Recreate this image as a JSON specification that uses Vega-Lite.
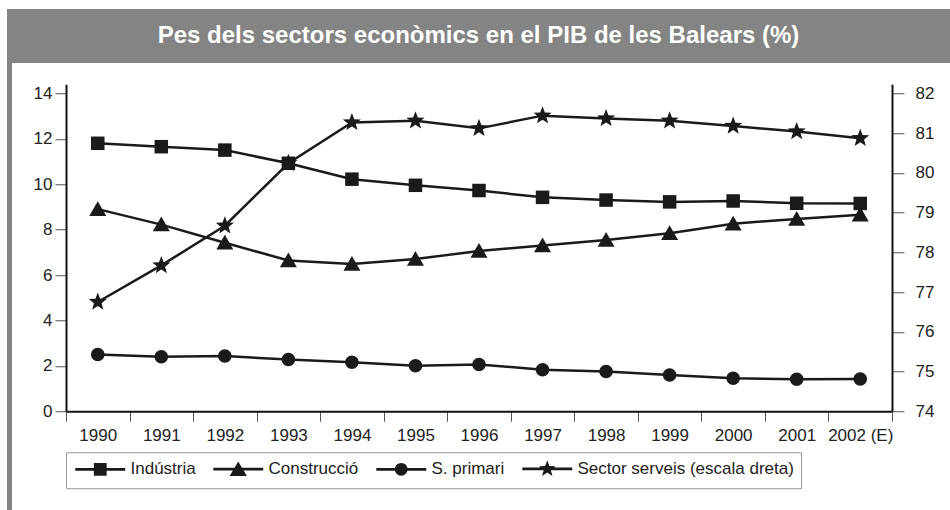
{
  "$schema": "https://vega.github.io/schema/vega-lite/v6.json",
  "background": "white",
  "padding": {"left": 7, "top": 9, "right": 0, "bottom": 0},
  "spacing": 0,
  "config": {
    "view": {"stroke": null},
    "font": "Liberation Sans",
    "axis": {"labelFont": "Liberation Sans", "labelFontSize": 17, "labelColor": "#222", "title": null, "grid": false, "domainColor": "#111", "domainWidth": 2, "tickColor": "#555", "tickWidth": 1}
  },
  "resolve": {"scale": {"shape": "independent", "opacity": "independent"}, "legend": {"shape": "independent", "opacity": "independent"}},
  "datasets": {
    "pib": [
      {"any": "1990", "sector": "Indústria", "valor": 11.8},
      {"any": "1991", "sector": "Indústria", "valor": 11.65},
      {"any": "1992", "sector": "Indústria", "valor": 11.5},
      {"any": "1993", "sector": "Indústria", "valor": 10.92},
      {"any": "1994", "sector": "Indústria", "valor": 10.22},
      {"any": "1995", "sector": "Indústria", "valor": 9.95},
      {"any": "1996", "sector": "Indústria", "valor": 9.72},
      {"any": "1997", "sector": "Indústria", "valor": 9.42},
      {"any": "1998", "sector": "Indústria", "valor": 9.3},
      {"any": "1999", "sector": "Indústria", "valor": 9.22},
      {"any": "2000", "sector": "Indústria", "valor": 9.26},
      {"any": "2001", "sector": "Indústria", "valor": 9.16},
      {"any": "2002 (E)", "sector": "Indústria", "valor": 9.15},
      {"any": "1990", "sector": "Construcció", "valor": 8.9},
      {"any": "1991", "sector": "Construcció", "valor": 8.22},
      {"any": "1992", "sector": "Construcció", "valor": 7.42},
      {"any": "1993", "sector": "Construcció", "valor": 6.64},
      {"any": "1994", "sector": "Construcció", "valor": 6.48},
      {"any": "1995", "sector": "Construcció", "valor": 6.7},
      {"any": "1996", "sector": "Construcció", "valor": 7.06},
      {"any": "1997", "sector": "Construcció", "valor": 7.3},
      {"any": "1998", "sector": "Construcció", "valor": 7.54},
      {"any": "1999", "sector": "Construcció", "valor": 7.84},
      {"any": "2000", "sector": "Construcció", "valor": 8.26},
      {"any": "2001", "sector": "Construcció", "valor": 8.47},
      {"any": "2002 (E)", "sector": "Construcció", "valor": 8.65},
      {"any": "1990", "sector": "S. primari", "valor": 2.5},
      {"any": "1991", "sector": "S. primari", "valor": 2.4},
      {"any": "1992", "sector": "S. primari", "valor": 2.43},
      {"any": "1993", "sector": "S. primari", "valor": 2.28},
      {"any": "1994", "sector": "S. primari", "valor": 2.16},
      {"any": "1995", "sector": "S. primari", "valor": 2.0},
      {"any": "1996", "sector": "S. primari", "valor": 2.06},
      {"any": "1997", "sector": "S. primari", "valor": 1.83},
      {"any": "1998", "sector": "S. primari", "valor": 1.75},
      {"any": "1999", "sector": "S. primari", "valor": 1.6},
      {"any": "2000", "sector": "S. primari", "valor": 1.45},
      {"any": "2001", "sector": "S. primari", "valor": 1.41},
      {"any": "2002 (E)", "sector": "S. primari", "valor": 1.42},
      {"any": "1990", "sector": "Sector serveis (escala dreta)", "valor": 76.75},
      {"any": "1991", "sector": "Sector serveis (escala dreta)", "valor": 77.67},
      {"any": "1992", "sector": "Sector serveis (escala dreta)", "valor": 78.67},
      {"any": "1993", "sector": "Sector serveis (escala dreta)", "valor": 80.24},
      {"any": "1994", "sector": "Sector serveis (escala dreta)", "valor": 81.27},
      {"any": "1995", "sector": "Sector serveis (escala dreta)", "valor": 81.31},
      {"any": "1996", "sector": "Sector serveis (escala dreta)", "valor": 81.12},
      {"any": "1997", "sector": "Sector serveis (escala dreta)", "valor": 81.44},
      {"any": "1998", "sector": "Sector serveis (escala dreta)", "valor": 81.37},
      {"any": "1999", "sector": "Sector serveis (escala dreta)", "valor": 81.31},
      {"any": "2000", "sector": "Sector serveis (escala dreta)", "valor": 81.18},
      {"any": "2001", "sector": "Sector serveis (escala dreta)", "valor": 81.04},
      {"any": "2002 (E)", "sector": "Sector serveis (escala dreta)", "valor": 80.87}
    ]
  },
  "vconcat": [
    {
      "width": 943,
      "height": 54,
      "view": {"fill": "#848484", "stroke": null},
      "data": {"values": [{"t": "Pes dels sectors econòmics en el PIB de les Balears (%)"}]},
      "mark": {"type": "text", "color": "white", "font": "Liberation Sans", "fontSize": 24, "fontWeight": "bold", "align": "center", "baseline": "middle"},
      "encoding": {"text": {"field": "t"}}
    },
    {
      "resolve": {"scale": {"shape": "independent", "opacity": "independent"}, "legend": {"shape": "independent", "opacity": "independent"}},
      "hconcat": [
        {
          "width": 5,
          "height": 447,
          "view": {"fill": "#848484", "stroke": null},
          "data": {"values": [{"k": 1}]},
          "mark": {"type": "text"},
          "encoding": {"text": {"value": ""}}
        },
        {
          "width": 826,
          "height": 327,
          "data": {"name": "pib"},
          "encoding": {
            "x": {
              "field": "any",
              "type": "ordinal",
              "scale": {"type": "band", "paddingInner": 0, "paddingOuter": 0},
              "axis": {"orient": "bottom", "tickBand": "extent", "tickSize": 10, "labelPadding": 6, "labelAngle": 0}
            }
          },
          "layer": [
            {
              "transform": [{"filter": "datum.sector !== 'Sector serveis (escala dreta)'"}],
              "encoding": {
                "y": {
                  "field": "valor",
                  "type": "quantitative",
                  "scale": {"domain": [0, 14.4], "nice": false, "zero": false},
                  "axis": {"orient": "left", "values": [0, 2, 4, 6, 8, 10, 12, 14], "tickSize": 11, "labelPadding": 3}
                }
              },
              "layer": [
                {
                  "mark": {"type": "line", "color": "#1a1a1a", "strokeWidth": 2.5},
                  "encoding": {"detail": {"field": "sector"}}
                },
                {
                  "mark": {"type": "point", "filled": true, "color": "#1a1a1a", "size": 100, "shape": {"expr": "['M-0.9,-0.17H5.34V0.17H-0.9ZM1.42,-0.8H3.02V0.8H1.42Z', 'M-0.9,-0.17H5.34V0.17H-0.9ZM2.22,-0.95L3.3,0.85L1.14,0.85Z', 'M-0.9,-0.17H5.34V0.17H-0.9ZM1.42,0A0.8,0.8 0 1,1 3.02,0A0.8,0.8 0 1,1 1.42,0Z', 'M-0.9,-0.17H5.34V0.17H-0.9ZM2.22,-1.1L2.49,-0.372L3.266,-0.34L2.657,0.142L2.867,0.89L2.22,0.46L1.573,0.89L1.783,0.142L1.174,-0.34L1.95,-0.372Z'][indexof(['Indústria', 'Construcció', 'S. primari', 'Sector serveis (escala dreta)'], datum.value)]"}},
                  "encoding": {
                    "shape": {
                      "field": "sector",
                      "type": "nominal",
                      "scale": {
                        "domain": ["Sector serveis (escala dreta)", "Indústria", "Construcció", "S. primari"],
                        "range": [
                          "M0,-1.9L0.47,-0.65L1.81,-0.59L0.76,0.25L1.12,1.54L0,0.8L-1.12,1.54L-0.76,0.25L-1.81,-0.59L-0.47,-0.65Z",
                          "M-1.35,-1.35H1.35V1.35H-1.35Z",
                          "M0,-1.6L1.7,1.35L-1.7,1.35Z",
                          "M-1.35,0A1.35,1.35 0 1,0 1.35,0A1.35,1.35 0 1,0 -1.35,0Z"
                        ]
                      },
                      "legend": null
                    },
                    "opacity": {
                      "field": "sector",
                      "type": "nominal",
                      "scale": {
                        "type": "ordinal",
                        "domain": ["Indústria", "Construcció", "S. primari", "Sector serveis (escala dreta)"],
                        "range": [1, 1, 1, 1]
                      },
                      "legend": {
                        "orient": "none",
                        "legendX": 0,
                        "legendY": 368,
                        "direction": "horizontal",
                        "title": null,
                        "symbolSize": 256,
                        "symbolStrokeWidth": 2.5,
                        "symbolFillColor": "#1a1a1a",
                        "symbolStrokeColor": "#1a1a1a",
                        "labelFont": "Liberation Sans",
                        "labelFontSize": 17,
                        "labelColor": "#222",
                        "labelOffset": 38.5,
                        "labelLimit": 320,
                        "columnPadding": 12,
                        "padding": 7,
                        "strokeColor": "#999",
                        "fillColor": "white"
                      }
                    }
                  }
                }
              ]
            },
            {
              "transform": [{"filter": "datum.sector === 'Sector serveis (escala dreta)'"}],
              "encoding": {
                "y": {
                  "field": "valor",
                  "type": "quantitative",
                  "scale": {"domain": [74, 82.23], "nice": false, "zero": false},
                  "axis": {"orient": "right", "values": [74, 75, 76, 77, 78, 79, 80, 81, 82], "tickSize": 12, "labelPadding": 11}
                }
              },
              "layer": [
                {
                  "mark": {"type": "line", "color": "#1a1a1a", "strokeWidth": 2.5},
                  "encoding": {"detail": {"field": "sector"}}
                },
                {
                  "mark": {"type": "point", "filled": true, "color": "#1a1a1a", "size": 100, "shape": {"expr": "['M-0.9,-0.17H5.34V0.17H-0.9ZM1.42,-0.8H3.02V0.8H1.42Z', 'M-0.9,-0.17H5.34V0.17H-0.9ZM2.22,-0.95L3.3,0.85L1.14,0.85Z', 'M-0.9,-0.17H5.34V0.17H-0.9ZM1.42,0A0.8,0.8 0 1,1 3.02,0A0.8,0.8 0 1,1 1.42,0Z', 'M-0.9,-0.17H5.34V0.17H-0.9ZM2.22,-1.1L2.49,-0.372L3.266,-0.34L2.657,0.142L2.867,0.89L2.22,0.46L1.573,0.89L1.783,0.142L1.174,-0.34L1.95,-0.372Z'][indexof(['Indústria', 'Construcció', 'S. primari', 'Sector serveis (escala dreta)'], datum.value)]"}},
                  "encoding": {
                    "shape": {
                      "field": "sector",
                      "type": "nominal",
                      "scale": {
                        "domain": ["Sector serveis (escala dreta)", "Indústria", "Construcció", "S. primari"],
                        "range": [
                          "M0,-1.9L0.47,-0.65L1.81,-0.59L0.76,0.25L1.12,1.54L0,0.8L-1.12,1.54L-0.76,0.25L-1.81,-0.59L-0.47,-0.65Z",
                          "M-1.35,-1.35H1.35V1.35H-1.35Z",
                          "M0,-1.6L1.7,1.35L-1.7,1.35Z",
                          "M-1.35,0A1.35,1.35 0 1,0 1.35,0A1.35,1.35 0 1,0 -1.35,0Z"
                        ]
                      },
                      "legend": null
                    },
                    "opacity": {
                      "field": "sector",
                      "type": "nominal",
                      "scale": {
                        "type": "ordinal",
                        "domain": ["Indústria", "Construcció", "S. primari", "Sector serveis (escala dreta)"],
                        "range": [1, 1, 1, 1]
                      }
                    }
                  }
                }
              ]
            }
          ],
          "resolve": {"scale": {"y": "independent"}}
        }
      ],
      "spacing": 21,
      "center": true
    }
  ]
}
